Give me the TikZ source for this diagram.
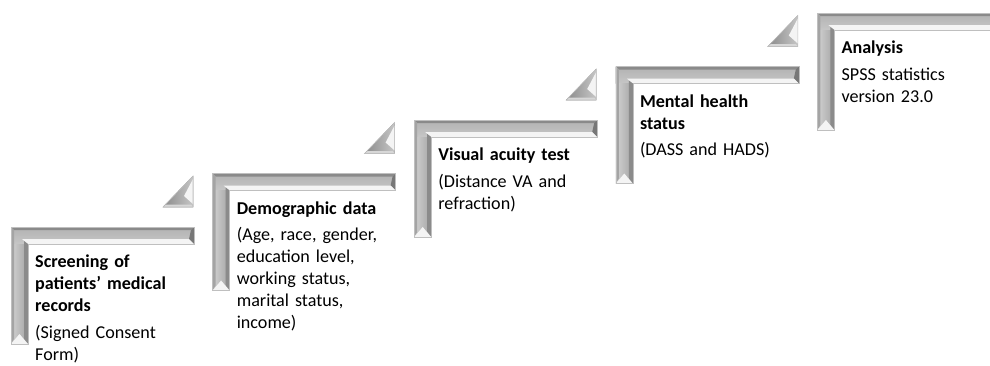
\documentclass[tikz,border=0pt]{standalone}
\usepackage{fontspec}
\setmainfont{Carlito}
\tikzset{>=latex}
\definecolor{rimdark}{HTML}{8A8A8A}
\definecolor{rimend}{HTML}{777777}
\definecolor{rimside}{HTML}{A4A4A4}
\definecolor{rimlight}{HTML}{F4F4F4}
\definecolor{faceupper}{HTML}{B2B2B2}
\definecolor{facelower}{HTML}{C6C6C6}

\tikzset{
  steptext/.style={anchor=base west, inner sep=0pt, align=left, text width=160pt,
    font=\fontsize{18.1}{22}\selectfont},
  % bevelled L bracket, origin at its top left corner
  bracket/.pic={
    \fill[top color=faceupper, bottom color=facelower] (0,0) -- (183,0) -- (183,17) -- (17,17) -- (0,17) -- cycle;
    \fill[left color=facelower!80!white, right color=rimside] (0,17) rectangle (17,117);
    \fill[rimdark] (0,0) -- (183,0) -- (180,3) -- (3,3) -- cycle;
    \fill[rimside] (0,0) -- (3,3) -- (3,112) -- (0,117) -- cycle;
    \fill[rimend] (183,0) -- (183,17) -- (178,12) -- (180,3) -- cycle;
    \fill[rimlight] (183,17) -- (17,17) -- (11,12) -- (178,12) -- cycle;
    \fill[rimside!85!black] (17,17) -- (17,117) -- (13,112) -- (13,14) -- cycle;
    \fill[rimlight] (17,117) -- (0,117) -- (8.5,107) -- cycle;
    \draw[rimside!70!white, line width=0.6pt] (0,0) -- (183,0) -- (183,17) -- (17,17) -- (17,117) -- (0,117) -- cycle;
  },
  % small bevelled wedge, origin at its top right corner
  wedge/.pic={
    \fill[left color=rimdark, right color=facelower] (0,0) -- (0,31) -- (-30,31) -- cycle;
    \fill[rimlight] (0,3) -- (-9,20) -- (0,28) -- cycle;
    \fill[facelower!70!white] (-30,31) -- (0,31) -- (-2,28.5) -- (-27,28.5) -- cycle;
    \draw[rimside!70!white, line width=0.6pt] (0,0) -- (0,31) -- (-30,31) -- cycle;
  }
}

\begin{document}
\begin{tikzpicture}[x=1pt, y=-1pt]
  \useasboundingbox (0,0) rectangle (990,365);
  \begin{scope}
    \clip (0,0) rectangle (990,365);
    \foreach \i in {0,...,4} {
      \pic at ({11+201.6*\i}, {227-53.5*\i}) {bracket};
    }
    \foreach \i in {0,...,3} {
      \pic at ({193+201.6*\i}, {176-53.5*\i}) {wedge};
    }
  \end{scope}

  \node[steptext] (screening) at (35, 267.5)
    {\textbf{Screening of\\patients’ medical\\records}\\[4.5pt](Signed Consent\\Form)};
  \node[steptext] (demographic) at (236.6, 214)
    {\textbf{Demographic data}\\[4.5pt](Age, race, gender,\\education level,\\working status,\\marital status,\\income)};
  \node[steptext] (visual) at (438.2, 160.5)
    {\textbf{Visual acuity test}\\[4.5pt](Distance VA and\\refraction)};
  \node[steptext] (mental) at (639.8, 107)
    {\textbf{Mental health\\status}\\[4.5pt](DASS and HADS)};
  \node[steptext] (analysis) at (841.4, 53.5)
    {\textbf{Analysis}\\[4.5pt]SPSS statistics\\version 23.0};
\end{tikzpicture}
\end{document}
